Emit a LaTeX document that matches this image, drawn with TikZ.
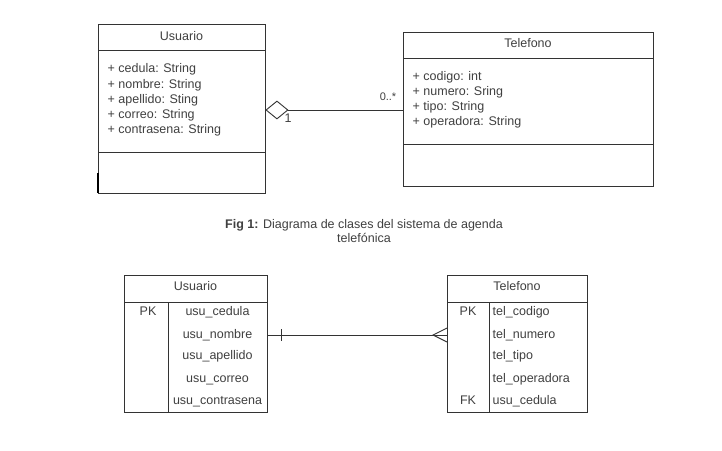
\documentclass[tikz,border=0pt]{standalone}
\usepackage{fontspec}
\setmainfont{Liberation Sans}
\usetikzlibrary{shapes.geometric}
\tikzset{
	umlbox/.style={draw=black!80, line width=0.9pt, inner sep=0pt},
	umlline/.style={draw=black!80, line width=0.9pt},
	umltext/.style={font=\fontsize{12.5}{15}\selectfont, text=black!75, inner sep=0pt, text height=9pt, text depth=2.5pt},
	attr/.style={umltext, anchor=west},
}

\begin{document}
\begin{tikzpicture}[x=1pt, y=-1pt]
			%%%%% START %%%%%
			\useasboundingbox[fill=white] (0,0) rectangle (722,450);
			
			% diagrama de clases
			\node[umlbox, minimum width=167, minimum height=169] (usuario) at (181.5,108.5) {};
			\draw[umlline] (98,50) -- (265,50);
			\draw[umlline] (98,152) -- (265,152);
			\draw[line width=2pt] (98,173) -- (98,193);
			\node[umltext] (usuarioT) at (181.5,37) {Usuario};
			\node[attr] (aCedula) at (107.5,69.5) {+ cedula: String};
			\node[attr] (aNombre) at (107.5,85) {+ nombre: String};
			\node[attr] (aApellido) at (107.5,100.5) {+ apellido: Sting};
			\node[attr] (aCorreo) at (107.5,115.5) {+ correo: String};
			\node[attr] (aContrasena) at (107.5,130.5) {+ contrasena: String};
			
			\node[umlbox, minimum width=250, minimum height=154] (telefono) at (528,109) {};
			\draw[umlline] (403,58) -- (653,58);
			\draw[umlline] (403,144) -- (653,144);
			\node[umltext] (telefonoT) at (528,44) {Telefono};
			\node[attr] (aCodigo) at (412.5,77.5) {+ codigo: int};
			\node[attr] (aNumero) at (412.5,92.5) {+ numero: Sring};
			\node[attr] (aTipo) at (412.5,107.5) {+ tipo: String};
			\node[attr] (aOperadora) at (412.5,122) {+ operadora: String};
			
			\node[umlbox, diamond, fill=white, minimum width=22, minimum height=18, anchor=west] (agg) at (265.5,110) {};
			\draw[umlline] (agg.east) -- (agg.east -| telefono.west);
			\node[umltext] (mult1) at (288,119) {1};
			\node[umltext, font=\fontsize{11}{13}\selectfont] (multN) at (388,97) {0..*};
			
			\node[umltext, font=\fontsize{12.5}{13.5}\selectfont, text height=, text depth=, align=center] (caption) at (364,231)
				{\textbf{Fig 1:} Diagrama de clases del sistema de agenda\\telefónica};
			
			% modelo relacional
			\node[umlbox, minimum width=143, minimum height=137] (uer) at (195.5,343.5) {};
			\draw[umlline] (124,302) -- (267,302);
			\draw[umlline] (168,302) -- (168,412);
			\node[umltext] (uerT) at (195.5,287.5) {Usuario};
			\node[umltext] (uPK) at (148,312) {PK};
			\node[umltext] (uCedula) at (217.5,312) {usu\_cedula};
			\node[umltext] (uNombre) at (217.5,335) {usu\_nombre};
			\node[umltext] (uApellido) at (217.5,356) {usu\_apellido};
			\node[umltext] (uCorreo) at (217.5,379) {usu\_correo};
			\node[umltext] (uContrasena) at (217.5,401) {usu\_contrasena};
			
			\node[umlbox, minimum width=140, minimum height=137] (ter) at (517,343.5) {};
			\draw[umlline] (447,302) -- (587,302);
			\draw[umlline] (489,302) -- (489,412);
			\node[umltext] (terT) at (517,287.5) {Telefono};
			\node[umltext] (tPK) at (468,312) {PK};
			\node[umltext] (tFK) at (468,401) {FK};
			\node[attr] (tCodigo) at (492.5,312) {tel\_codigo};
			\node[attr] (tNumero) at (492.5,335) {tel\_numero};
			\node[attr] (tTipo) at (492.5,356) {tel\_tipo};
			\node[attr] (tOperadora) at (492.5,379) {tel\_operadora};
			\node[attr] (tCedula) at (492.5,401) {usu\_cedula};
			
			\draw[umlline] (uer.east |- uNombre) -- (ter.west |- tNumero);
			\draw[umlline] (281,329) -- (281,341);
			\coordinate (crow) at (433,335);
			\draw[umlline] (447,328) -- (crow) -- (447,342);
			
			%%%%% END %%%%%
		\end{tikzpicture}
\end{document}
